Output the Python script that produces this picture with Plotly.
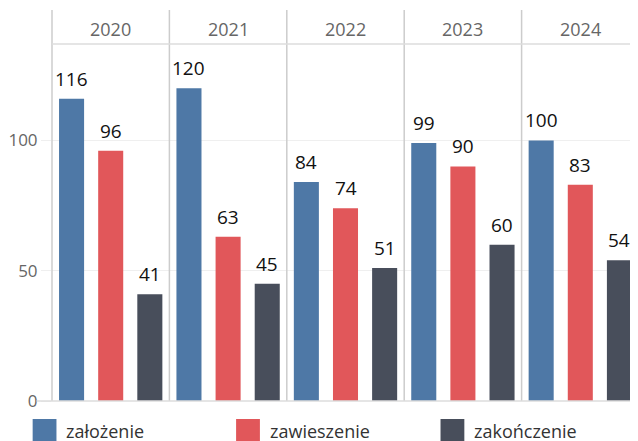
import plotly.graph_objects as go
from plotly.subplots import make_subplots

years = ["2020", "2021", "2022", "2023", "2024"]
series = ["założenie", "zawieszenie", "zakończenie"]
zalozenie = [116, 120, 84, 99, 100]
zawieszenie = [96, 63, 74, 90, 83]
zakonczenie = [41, 45, 51, 60, 54]
colors = ["#4e78a6", "#e1575a", "#484e5b"]
y_ticks = [0, 50, 100]

# the page has an 8px body margin; work in page pixels and convert
OFF = 8
PAGE_W, PAGE_H = 638, 441
plot_left, plot_right, plot_top, plot_bottom = 47.5, 639.5, 44, 401  # page px
W, H = int(plot_right - OFF), PAGE_H - OFF
L = plot_left - OFF
R = 0
T = plot_top - OFF
B = H - (plot_bottom - OFF)
pw = W - L - R
ph = H - T - B

def px_x(px):
    return (px - plot_left) / pw

def px_y(py):
    return (plot_bottom - py) / ph

fig = make_subplots(rows=1, cols=5, shared_yaxes=True, horizontal_spacing=0)

annotations = []
for i, yr in enumerate(years):
    vals = [zalozenie[i], zawieszenie[i], zakonczenie[i]]
    fig.add_trace(
        go.Bar(
            x=series,
            y=vals,
            marker=dict(color=colors, line=dict(width=0)),
            showlegend=False,
            hoverinfo="x+y",
        ),
        row=1, col=i + 1,
    )
    axn = "" if i == 0 else str(i + 1)
    for s, v in zip(series, vals):
        annotations.append(dict(text=str(v), x=s, y=v, xref="x" + axn, yref="y" + axn,
                                xanchor="center", yanchor="bottom", yshift=5,
                                showarrow=False,
                                font=dict(size=19, color="#111111", family="Open Sans")))
    fig.update_xaxes(
        categoryorder="array", categoryarray=series,
        showticklabels=False, showgrid=False, showline=False, zeroline=False,
        range=[-0.5, 2.5], ticks="",
        row=1, col=i + 1,
    )
    fig.update_yaxes(
        range=[0, 137], tickvals=y_ticks, showgrid=True, gridcolor="#efefef",
        gridwidth=1, zeroline=False, showline=False,
        row=1, col=i + 1,
    )

fig.update_yaxes(
    ticks="outside", ticklen=10, tickcolor="#efefef",
    tickfont=dict(size=17, color="#666666", family="Open Sans"),
    row=1, col=1,
)

shapes = []
# vertical separators
for i in range(6):
    shapes.append(dict(type="line", xref="paper", yref="paper",
                       x0=i / 5, x1=i / 5, y0=0, y1=px_y(10),
                       line=dict(color="#cccccc", width=1.5)))
# header bottom line
shapes.append(dict(type="line", xref="paper", yref="paper",
                   x0=0, x1=1, y0=1, y1=1,
                   line=dict(color="#dddddd", width=1.5)))
# bottom baseline
shapes.append(dict(type="line", xref="paper", yref="paper",
                   x0=px_x(32), x1=1, y0=0, y1=0,
                   line=dict(color="#dddddd", width=1.5)))
# facet headers
for i, yr in enumerate(years):
    annotations.append(dict(text=yr, xref="paper", yref="paper",
                            x=(i + 0.5) / 5, y=px_y(29), xanchor="center", yanchor="middle",
                            showarrow=False,
                            font=dict(size=18, color="#666666", family="Open Sans")))
# legend
leg_sq_x = [28, 233, 439]
for name, c, sx in zip(series, colors, leg_sq_x):
    shapes.append(dict(type="rect", xref="paper", yref="paper",
                       x0=px_x(sx), x1=px_x(sx + 24), y0=px_y(419), y1=px_y(443),
                       line=dict(width=0), fillcolor=c))
    annotations.append(dict(text=name, xref="paper", yref="paper",
                            x=px_x(sx + 32), y=px_y(431), xanchor="left", yanchor="middle",
                            showarrow=False,
                            font=dict(size=18, color="#333333", family="Open Sans")))

fig.update_layout(
    width=W, height=H,
    margin=dict(l=L, r=R, t=T, b=B, pad=0),
    paper_bgcolor="white", plot_bgcolor="white",
    bargap=0.36,
    showlegend=False,
    shapes=shapes,
    annotations=annotations,
    font=dict(family="Open Sans"),
)

fig.write_html("out.html")
